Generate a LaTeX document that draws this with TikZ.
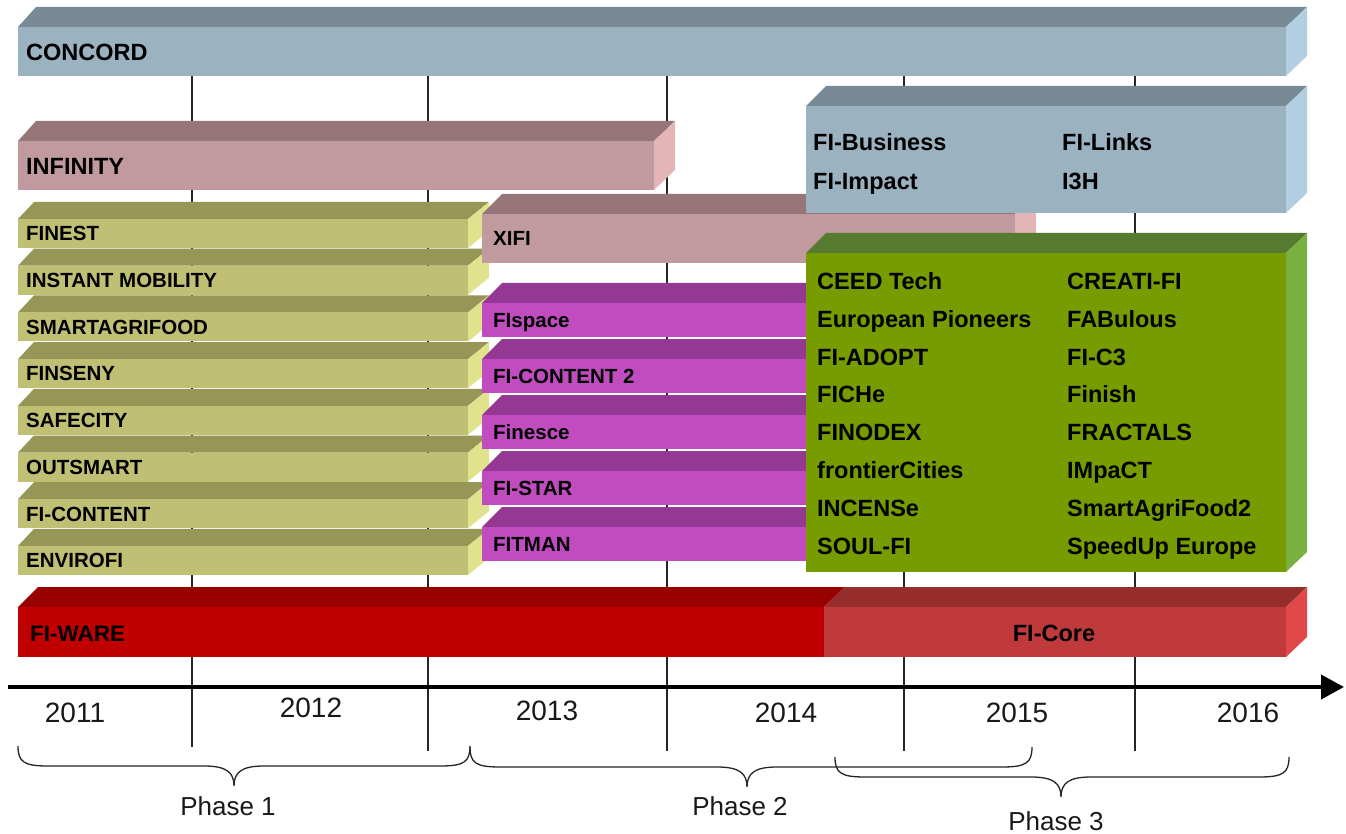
\documentclass[tikz,border=0pt]{standalone}
\usepackage{fontspec}
\setmainfont{Liberation Sans}
\usetikzlibrary{arrows.meta}
\definecolor{concF}{RGB}{155,178,192}
\definecolor{concT}{RGB}{120,138,150}
\definecolor{concS}{RGB}{180,206,225}
\definecolor{infF}{RGB}{192,154,158}
\definecolor{infT}{RGB}{150,118,120}
\definecolor{infS}{RGB}{228,181,183}
\definecolor{olF}{RGB}{192,192,116}
\definecolor{olT}{RGB}{150,150,86}
\definecolor{olS}{RGB}{224,226,142}
\definecolor{magF}{RGB}{192,76,192}
\definecolor{magT}{RGB}{148,56,148}
\definecolor{magS}{RGB}{210,100,210}
\definecolor{grnF}{RGB}{119,156,0}
\definecolor{grnT}{RGB}{85,122,48}
\definecolor{grnS}{RGB}{122,176,64}
\definecolor{fwF}{RGB}{192,0,0}
\definecolor{fwT}{RGB}{153,0,0}
\definecolor{fwS}{RGB}{220,50,50}
\definecolor{fcF}{RGB}{192,58,60}
\definecolor{fcT}{RGB}{150,45,45}
\definecolor{fcS}{RGB}{224,72,74}
\def\tdl{18}
\def\tdr{21}
% x1 y1 x2 y2 dy front top side
\newcommand{\tdbar}[8]{%
  \fill[#7] (#1,#2) -- ({#1+\tdl},{#2-#5}) -- ({#3+\tdr},{#2-#5}) -- (#3,#2) -- cycle;
  \fill[#8] (#3,#2) -- ({#3+\tdr},{#2-#5}) -- ({#3+\tdr},{#4-#5}) -- (#3,#4) -- cycle;
  \fill[#6] (#1,#2) rectangle (#3,#4);
}
% x1 x2 ytop h xm
\newcommand{\brc}[5]{%
  \draw[brace] (#1,#3) .. controls (#1,{#3+0.8*#4}) and ({#1+6},{#3+#4}) .. ({#1+30},{#3+#4})
    -- ({#5-30},{#3+#4}) .. controls ({#5-8},{#3+#4}) and (#5,{#3+1.3*#4}) .. (#5,{#3+2*#4})
    .. controls (#5,{#3+1.3*#4}) and ({#5+8},{#3+#4}) .. ({#5+30},{#3+#4})
    -- ({#2-30},{#3+#4}) .. controls ({#2-6},{#3+#4}) and (#2,{#3+0.8*#4}) .. (#2,#3);
}
\tikzset{
  lblL/.style={anchor=base west, inner sep=0pt, font=\bfseries\fontsize{23.5}{28}\selectfont},
  lblS/.style={anchor=base west, inner sep=0pt, font=\bfseries\fontsize{20.5}{24}\selectfont},
  yr/.style={inner sep=0pt, font=\fontsize{28}{32}\selectfont, text=black!90},
  ph/.style={inner sep=0pt, font=\fontsize{26}{30}\selectfont, text=black!90},
  grid/.style={line width=1.4pt, black!85},
  brace/.style={line width=1.3pt, black!85},
  axisline/.style={line width=4pt, black, -{Triangle[length=23pt,width=24pt]}},
}
\begin{document}
\begin{tikzpicture}[x=1pt,y=-1pt]
\useasboundingbox (0,0) rectangle (1346,834);
\fill[white] (0,0) rectangle (1346,834);
% grid lines
\foreach \gx/\gb in {192/747,428/751,667/751,904/751,1135/751}{
  \draw[grid] (\gx,60) -- (\gx,\gb);
}
% CONCORD
\tdbar{18}{27}{1286}{76}{20}{concF}{concT}{concS}
\node[lblL] (concord) at (26,60.4) {CONCORD};
% INFINITY
\tdbar{18}{141}{654}{190}{20}{infF}{infT}{infS}
\node[lblL] (infinity) at (26,174.4) {INFINITY};
% olive bars
\def\tdl{16}
\foreach \t [count=\i from 0] in {FINEST,INSTANT MOBILITY,SMARTAGRIFOOD,FINSENY,SAFECITY,OUTSMART,FI-CONTENT,ENVIROFI}{
  \pgfmathsetmacro{\yt}{219+46.7*\i}
  \pgfmathsetmacro{\yb}{\yt+29}
  \tdbar{18}{\yt}{468}{\yb}{17}{olF}{olT}{olS}
  \node[lblS] (ol\i) at (26,{\yt+21.8}) {\t};
}
% XIFI
\def\tdl{20}
\tdbar{482}{214}{1015}{263}{20}{infF}{infT}{infS}
\node[lblS] (xifi) at (493,245.3) {XIFI};
% magenta bars
\foreach \t [count=\i from 0] in {FIspace,FI-CONTENT 2,Finesce,FI-STAR,FITMAN}{
  \pgfmathsetmacro{\yt}{303+56*\i}
  \pgfmathsetmacro{\yb}{\yt+34}
  \tdbar{482}{\yt}{830}{\yb}{20}{magF}{magT}{magS}
  \node[lblS] (mg\i) at (493,{\yt+24.3}) {\t};
}
% blue box
\tdbar{806}{106}{1286}{213}{20}{concF}{concT}{concS}
\node[lblL] (fibus) at (813,150.4) {FI-Business};
\node[lblL] (filinks) at (1062,150.4) {FI-Links};
\node[lblL] (fiimp) at (813,189.4) {FI-Impact};
\node[lblL] (ithreeh) at (1062,189.4) {I3H};
% green block
\tdbar{806}{253}{1286}{572}{20}{grnF}{grnT}{grnS}
\foreach \a/\b [count=\i from 0] in {CEED Tech/CREATI-FI,European Pioneers/FABulous,FI-ADOPT/FI-C3,FICHe/Finish,FINODEX/FRACTALS,frontierCities/IMpaCT,INCENSe/SmartAgriFood2,SOUL-FI/SpeedUp Europe}{
  \node[lblL] (ga\i) at (817,{289.4+37.86*\i}) {\a};
  \node[lblL] (gb\i) at (1067,{289.4+37.86*\i}) {\b};
}
% FI-WARE and FI-Core
\tdbar{18}{607}{824}{657}{20}{fwF}{fwT}{fwS}
\node[lblL, font=\bfseries\fontsize{22.5}{27}\selectfont] (fiware) at (30,641) {FI-WARE};
\tdbar{824}{607}{1286}{657}{20}{fcF}{fcT}{fcS}
\node[lblL, anchor=base] (ficore) at (1054,641.4) {FI-Core};
% axis
\coordinate (axL) at (8,687);
\coordinate (axR) at (1344,687);
\draw[axisline] (axL) -- (axR);
% years
\node[yr] (y2011) at (75,713) {2011};
\node[yr] (y2012) at (311,708) {2012};
\node[yr] (y2013) at (547,711) {2013};
\node[yr] (y2014) at (786,713) {2014};
\node[yr] (y2015) at (1017,713) {2015};
\node[yr] (y2016) at (1248,713) {2016};
% braces
\brc{18}{470}{746}{20}{234}
\brc{470}{1032}{747}{20}{747}
\brc{835}{1289}{757}{20}{1061}
\node[ph] (ph1) at (228,806) {Phase 1};
\node[ph] (ph2) at (740,806) {Phase 2};
\node[ph] (ph3) at (1056,821) {Phase 3};
\end{tikzpicture}
\end{document}
